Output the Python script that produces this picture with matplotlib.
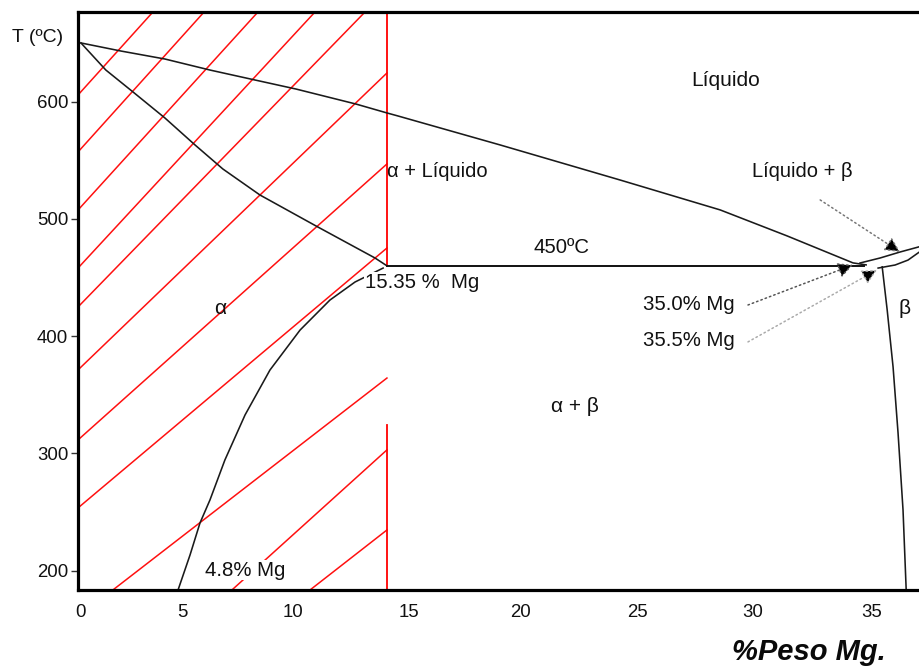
import matplotlib
matplotlib.use('Agg')
import matplotlib.pyplot as plt
from matplotlib import font_manager

# diagrama Al-Mg, valores (x = % peso Mg, y = T en ºC)
liq_x = [0, 1.77, 3.71, 5.70, 7.69, 9.50, 12.15, 13.52, 14.01, 18.52, 23.82, 28.24, 31.20, 34.11, 34.69]
liq_t = [650.1, 643.2, 636.4, 627.0, 618.5, 610.8, 598.0, 590.4, 587.8, 563.1, 533.2, 507.7, 485.5, 462.5, 460.8]
sol_x = [0, 1.10, 2.30, 3.71, 5.04, 6.27, 7.91, 10.47, 12.99, 13.52]
sol_t = [650.1, 627.0, 608.3, 586.1, 563.1, 542.6, 520.4, 493.1, 466.7, 460.0]
solv_x = [13.35, 12.11, 11.0, 9.68, 8.35, 7.25, 6.36, 5.70, 5.26, 4.82, 4.29]
solv_t = [458.1, 446.2, 430.8, 405.2, 371.1, 332.8, 294.4, 260.3, 240.7, 213.4, 183.5]
beta_x = [35.40, 35.62, 35.88, 36.10, 36.32, 36.46]
beta_t = [459.1, 422.4, 373.8, 317.5, 251.8, 183.5]
bliq_x = [34.42, 35.31, 36.19, 37.16]
bliq_t = [462.4, 466.7, 471.8, 476.9]
bsol_x = [35.22, 35.97, 36.54, 37.16]
bsol_t = [458.1, 460.7, 464.9, 473.4]
eut_x = [13.52, 34.6]
eut_t = 460.0

# rayado rojo (inicio / fin de cada linea)
h_x0 = [-0.13, -0.13, -0.13, -0.13, -0.13, -0.13, -0.13, -0.13, 1.41, 6.67, 10.12]
h_t0 = [605.7, 557.1, 507.6, 458.1, 424.9, 371.2, 311.5, 253.5, 183.5, 183.5, 183.5]
h_x1 = [3.18, 5.44, 7.82, 10.34, 12.55, 13.52, 13.52, 13.52, 13.52, 13.52, 13.52]
h_t1 = [676.5, 676.5, 676.5, 676.5, 676.5, 624.5, 546.9, 475.2, 364.3, 303.0, 234.7]
red_x = 13.52
red_segs = [(676.5, 460.0), (324.3, 183.5)]

# flechas punteadas (origen -> punta)
arr_x0 = [32.66, 29.47, 29.47]
arr_t0 = [516.2, 426.6, 395.1]
arr_x1 = [36.19, 34.11, 35.17]
arr_t1 = [471.8, 460.8, 456.5]
arr_col = ['#777777', '#555555', '#aaaaaa']

xtick_pos = [0, 4.46, 9.37, 14.5, 19.4, 24.57, 29.7, 34.95]
xtick_lab = ['0', '5', '10', '15', '20', '25', '30', '35']
ytick_pos = [200, 300, 400, 500, 600]

names = {f.name for f in font_manager.fontManager.ttflist}
if 'Liberation Sans Narrow' in names:
    NARROW = ['Liberation Sans Narrow', 'DejaVu Sans']
    k = 1.0
else:
    NARROW = ['Liberation Sans', 'DejaVu Sans']
    k = 0.84
NORMAL = ['Liberation Sans', 'DejaVu Sans']
plt.rcParams['font.family'] = NORMAL

fig = plt.figure(figsize=(9.2, 6.67), dpi=100)
ax = fig.add_axes([78/920, 77/667, 1 - 78/920, 578/667])
ax.set_xlim(-0.13, 37.07)
ax.set_ylim(183.5, 676.5)

for x0, t0, x1, t1 in zip(h_x0, h_t0, h_x1, h_t1):
    ax.plot([x0, x1], [t0, t1], color='#ff1010', lw=1.1, zorder=1)
for a, b in red_segs:
    ax.plot([red_x, red_x], [a, b], color='#ff0000', lw=1.3, zorder=1)

line = dict(color='#1a1a1a', lw=1.15, zorder=2)
ax.plot(liq_x, liq_t, **line)
ax.plot(sol_x, sol_t, **line)
ax.plot(solv_x, solv_t, **line)
ax.plot(beta_x, beta_t, **line)
ax.plot(bliq_x, bliq_t, **line)
ax.plot(bsol_x, bsol_t, **line)
ax.plot(eut_x, [eut_t, eut_t], color='#111111', lw=1.4, zorder=2)

for x0, t0, x1, t1, c in zip(arr_x0, arr_t0, arr_x1, arr_t1, arr_col):
    ax.annotate('', xy=(x1, t1), xytext=(x0, t0), zorder=3,
                arrowprops=dict(arrowstyle='-|>,head_length=0.75,head_width=0.38',
                                ls=(0, (1, 2)), lw=1.1, ec=c, fc='black',
                                shrinkA=0, shrinkB=0, mutation_scale=12))

txt = '#111111'
ax.text(28.5, 618, 'Líquido', fontsize=15, color=txt, ha='center', va='center')
ax.text(13.5, 460 - (172 - 266) / 1.1725, 'α + Líquido', fontsize=14.5, color=txt, ha='left', va='center')
ax.text(29.65, 540.2, 'Líquido + β', fontsize=14.5, color=txt, ha='left', va='center')
ax.text(20.0, 476.0, '450ºC', fontsize=17.5 * k, family=NARROW, color=txt, ha='left', va='center')
ax.text(12.55, 446.0, '15.35 %  Mg', fontsize=17.5 * k, family=NARROW, color=txt, ha='left', va='center',
        zorder=4, bbox=dict(fc='white', ec='none', pad=0.5))
ax.text(24.85, 426.6, '35.0% Mg', fontsize=17.5 * k, family=NARROW, color=txt, ha='left', va='center')
ax.text(24.85, 395.9, '35.5% Mg', fontsize=17.5 * k, family=NARROW, color=txt, ha='left', va='center')
ax.text(6.14, 423.7, 'α', fontsize=15, color=txt, ha='center', va='center')
ax.text(21.83, 340.0, 'α + β', fontsize=15, color=txt, ha='center', va='center')
ax.text(36.41, 423.7, 'β', fontsize=15, color=txt, ha='center', va='center')
ax.text(5.48, 200.4, '4.8% Mg', fontsize=17.5 * k, family=NARROW, color=txt, ha='left', va='center',
        zorder=4, bbox=dict(fc='white', ec='none', pad=0.5))

fig.text(38 / 920, 1 - 38 / 667, 'T (ºC)', fontsize=14, color=txt, ha='center', va='center')
fig.text(886 / 920, 1 - 652 / 667, '%Peso Mg.', fontsize=21, color='#0a0a0a',
         fontweight='bold', fontstyle='italic', ha='right', va='center')

ax.set_xticks(xtick_pos)
ax.set_xticklabels(xtick_lab, family=NARROW, fontsize=16 * k, color=txt)
ax.tick_params(axis='x', length=0, pad=10)
ax.set_yticks(ytick_pos)
ax.set_yticklabels([str(v) for v in ytick_pos], fontsize=13.4, color=txt)
ax.tick_params(axis='y', length=5, width=1.0, pad=2, color='#333333')

for s in ['left', 'top', 'bottom']:
    ax.spines[s].set_linewidth(2.3)
    ax.spines[s].set_color('black')
ax.spines['right'].set_visible(False)

fig.savefig('out.png', dpi=100)
